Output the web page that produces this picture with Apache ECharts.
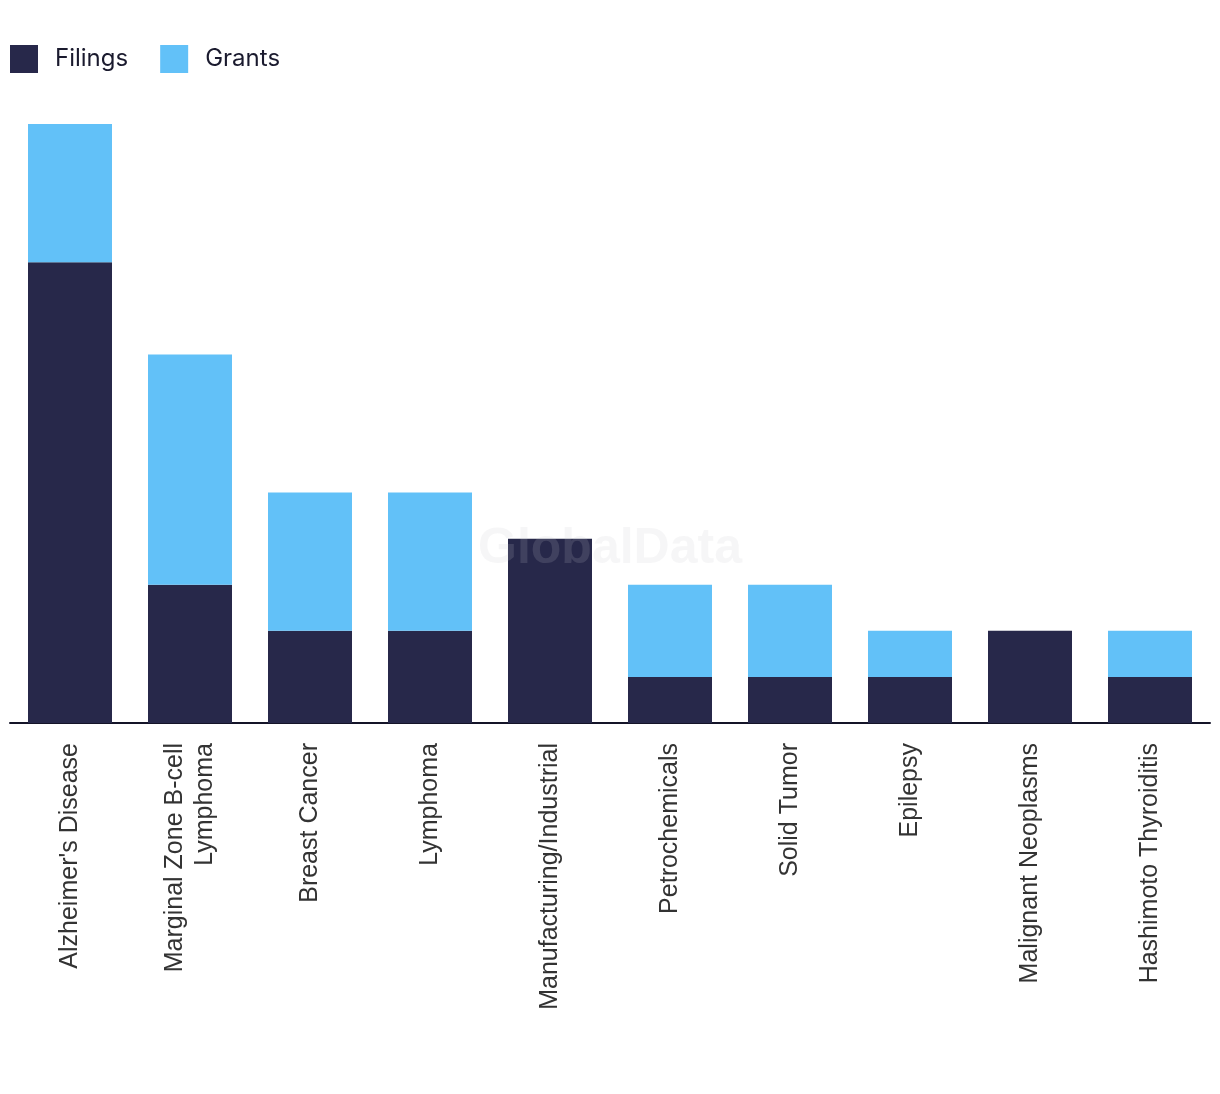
<!DOCTYPE html>
<html><head><meta charset="utf-8">
<script src="https://cdn.jsdelivr.net/npm/echarts@6/dist/echarts.min.js"></script>
<style>html,body{margin:0;padding:0;background:#fff}#c{width:1220px;height:1094px}</style>
</head><body><div id="c"></div>
<script>
const categories = ["Alzheimer's Disease","Marginal Zone B-cell\nLymphoma","Breast Cancer","Lymphoma","Manufacturing/Industrial","Petrochemicals","Solid Tumor","Epilepsy","Malignant Neoplasms","Hashimoto Thyroiditis"];
const filings = [10,3,2,2,4,1,1,1,2,1];
const grants = [3,5,3,3,0,2,2,1,0,1];

const chart = echarts.init(document.getElementById('c'));
chart.setOption({
  animation:false,
  legend:{left:10,top:45,padding:0,itemWidth:28,itemHeight:28,itemGap:32,icon:'rect',
    textStyle:{fontFamily:'Inter',fontSize:24,color:'#1a1a2e',padding:[0,0,0,12]},
    data:['Filings','Grants']},
  grid:{left:10,right:10,top:124,bottom:371,containLabel:false},
  xAxis:{type:'category',data:categories,
    axisLine:{lineStyle:{color:'#141428',width:2}},axisTick:{show:false},
    axisLabel:{rotate:90,interval:0,margin:20,fontFamily:'Liberation Sans',fontSize:25,color:'#333',lineHeight:30}},
  yAxis:{type:'value',min:0,max:13,interval:1,show:false,splitLine:{show:false}},
  graphic:[{type:'text',left:'center',top:524,z:100,style:{text:'GlobalData',fontFamily:'Liberation Sans',fontWeight:'bold',fontSize:50,fill:'rgba(200,200,205,0.16)'}}],
  series:[
    {name:'Filings',type:'bar',stack:'a',data:filings,barWidth:'70%',itemStyle:{color:'#27284a'}},
    {name:'Grants',type:'bar',stack:'a',data:grants,barWidth:'70%',itemStyle:{color:'#62c1f8'}}
  ]
});
</script></body></html>
